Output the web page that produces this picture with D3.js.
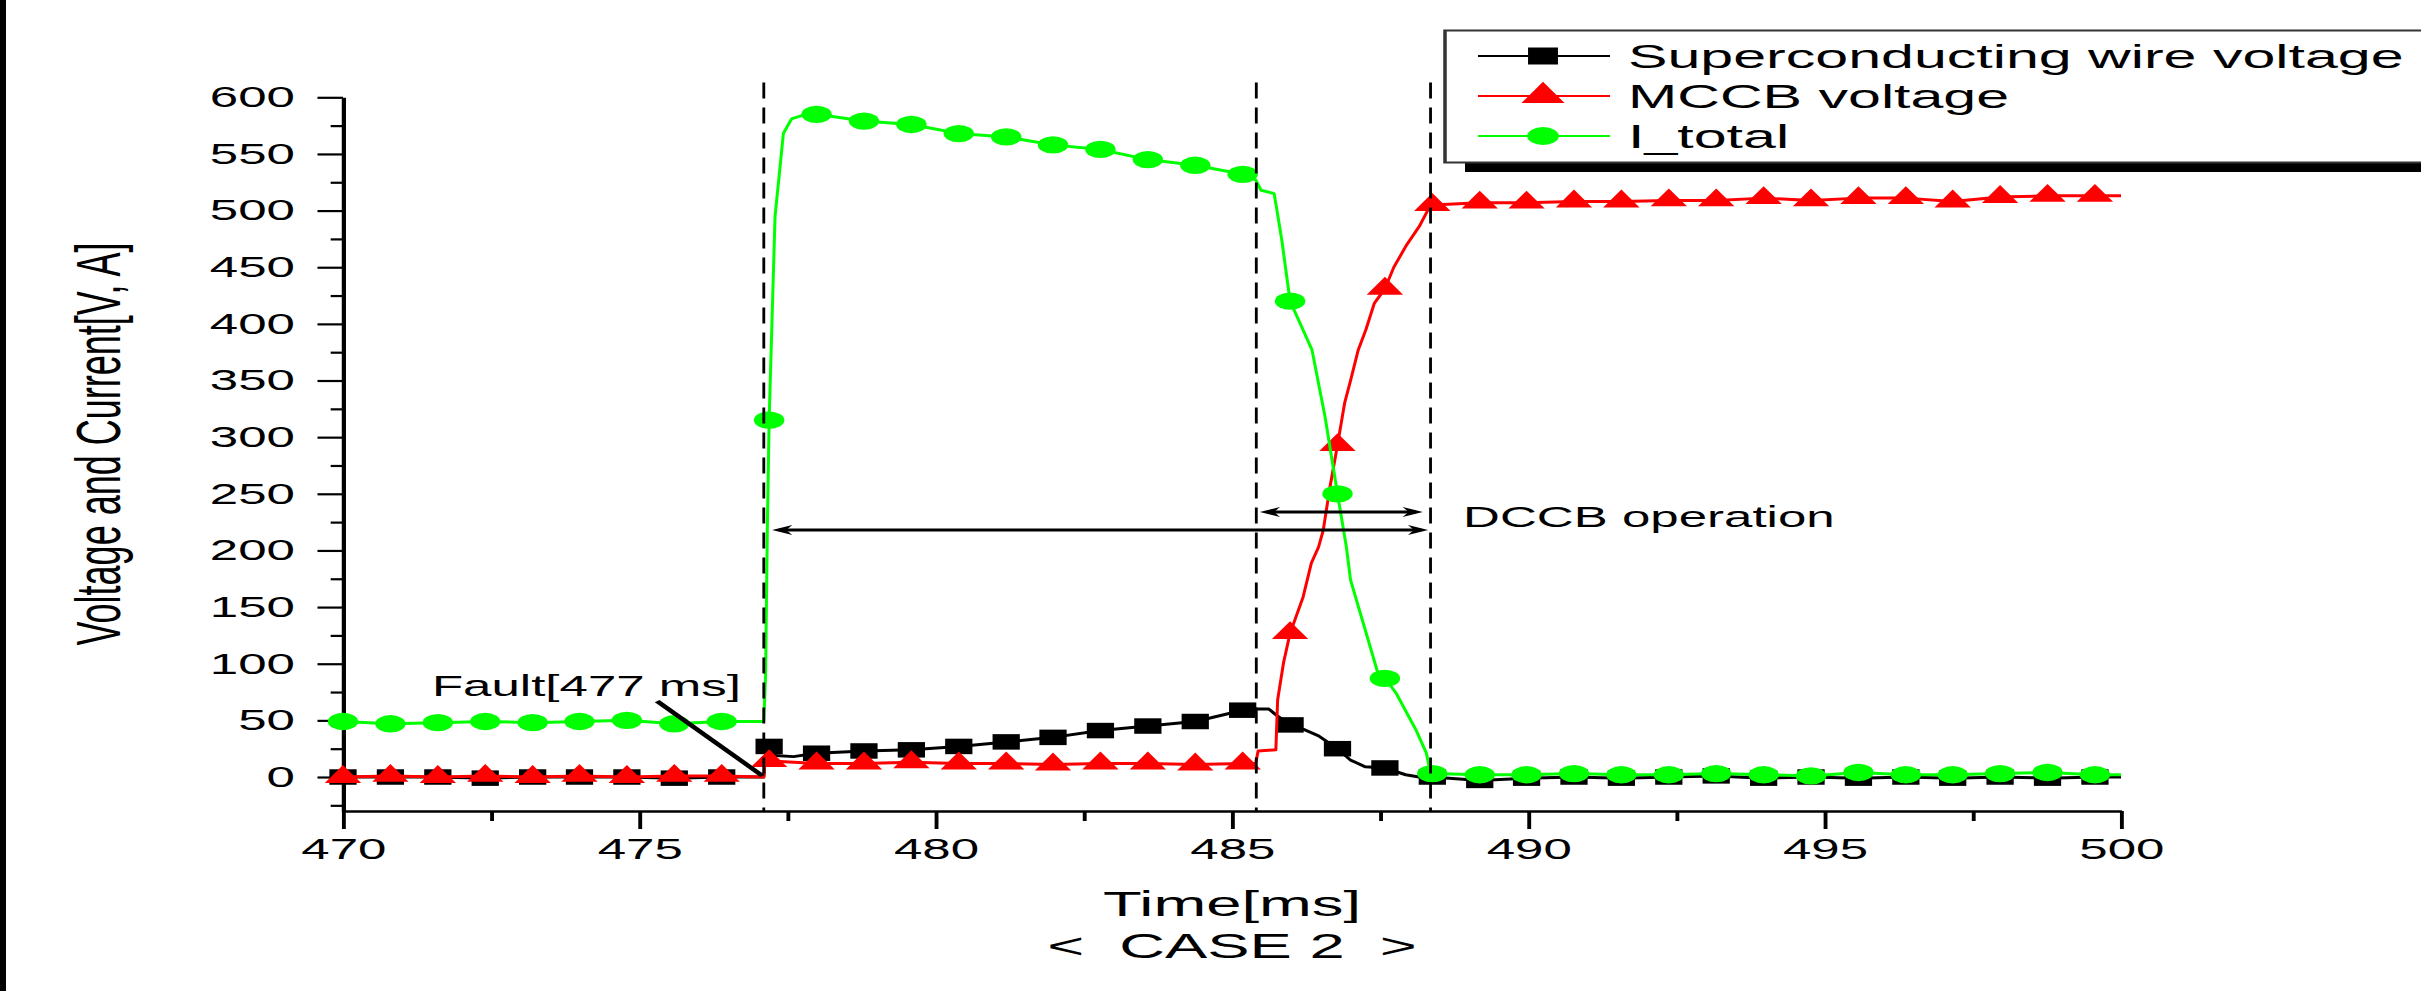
<!DOCTYPE html>
<html>
<head>
<meta charset="utf-8">
<script src="https://cdn.jsdelivr.net/npm/d3@7"></script>
<style>
body { margin: 0; background: #fff; }
svg { display: block; font-family: "Liberation Sans", Arial, sans-serif; }
</style>
</head>
<body>
<div id="chart-area"></div>
<script>
// times where the symbols sit (ms)
const markerTimes = [470.00, 470.80, 471.60, 472.40, 473.20, 473.99, 474.79, 475.59, 476.39, 477.19,
	477.99, 478.79, 479.59, 480.39, 481.19, 481.98, 482.78, 483.58, 484.38, 485.18,
	485.98, 486.78, 487.58, 488.38, 489.18, 489.97, 490.77, 491.57, 492.37, 493.17,
	493.97, 494.77, 495.57, 496.37, 497.16, 497.96, 498.76, 499.56]

// series values at the symbols
const wireMarks = [0, 0, 0, -1, 0, 0, 0, -1, 0, 27, 21, 23, 24, 27, 31, 35, 41, 45, 49, 59,
	46, 25, 8, 0, -3, -1, 0, -1, 0, 1, -1, 0, -1, 0, -1, 0, -1, 0]
const mccbMarks = [0, 1, 0, 1, 0, 1, 0, 1, 1, 14, 12, 12, 13, 12, 12, 11, 12, 12, 11, 12,
	127, 293, 431, 505, 507, 507, 508, 508, 509, 509, 511, 509, 511, 511, 508, 512, 513, 513]
const itotMarks = [49, 47, 48, 49, 48, 49, 50, 47, 49, 315, 585, 579, 576, 568, 565, 558, 554, 545, 540, 532,
	420, 250, 87, 3, 2, 2, 3, 2, 2, 3, 2, 1, 4, 2, 2, 3, 4, 2]

// extra trace points between symbols [t, value]
const wireTrace = [[477.10, 0], [477.14, 28], [477.30, 19], [477.60, 18], [485.41, 60], [485.62, 60],
	[485.74, 55], [486.21, 42], [486.47, 36], [487.00, 15], [487.25, 9], [487.93, 2], [488.28, -1], [500.0, 0]]
const mccbTrace = [[477.10, 0], [477.13, 19], [477.30, 14], [485.40, 12], [485.44, 23], [485.74, 24],
	[485.77, 68], [485.87, 101], [486.05, 137], [486.20, 159], [486.34, 189], [486.46, 203], [486.54, 218],
	[486.65, 255], [486.90, 330], [487.00, 350], [487.13, 377], [487.26, 395], [487.40, 418], [487.73, 450],
	[487.95, 470], [488.16, 486], [488.30, 500], [500.0, 513]]
const itotTrace = [[477.10, 49], [477.13, 90], [477.16, 220], [477.29, 495], [477.36, 531], [477.43, 568],
	[477.57, 581], [477.75, 584], [485.40, 527], [485.49, 518], [485.71, 515], [485.75, 503], [485.84, 474],
	[486.35, 377], [486.57, 318], [486.93, 203], [487.00, 174], [487.46, 92], [487.77, 74], [488.10, 42],
	[488.28, 21], [488.35, 3], [500.0, 2]]

const xTicks = [470, 475, 480, 485, 490, 495, 500]
const yTicks = [0, 50, 100, 150, 200, 250, 300, 350, 400, 450, 500, 550, 600]
const eventTimes = [477.10, 485.41, 488.35]
// [start, end, level]
const spans = [[477.24, 488.31, 218], [485.47, 488.22, 234]]
const seriesNames = ["Superconducting wire voltage", "MCCB voltage", "I_total"]
const seriesColors = ["#000000", "#ff0000", "#00ff00"]

const W = 2421, H = 991, SX = 1.76   // the original figure is stretched sideways
const VW = W / SX

const svg = d3.select("#chart-area").append("svg")
	.attr("width", W)
	.attr("height", H)
	.attr("viewBox", `0 0 ${VW} ${H}`)
	.attr("preserveAspectRatio", "none")

svg.append("rect").attr("width", VW).attr("height", H).attr("fill", "#fff")
svg.append("rect").attr("x", 0).attr("width", 6 / SX).attr("height", H).attr("fill", "#000")

const x = d3.scaleLinear().domain([470, 500]).range([343 / SX, 2121 / SX])
const y = d3.scaleLinear().domain([-30, 600]).range([811, 97.3])

// axes
const yAxis = svg.append("g")
	.attr("transform", `translate(${x(470)},0)`)
	.call(d3.axisLeft(y).tickValues(yTicks).tickSize(14.5).tickSizeOuter(0).tickPadding(12.8))
svg.append("g")
	.attr("transform", `translate(${x(470)},0)`)
	.call(d3.axisLeft(y).tickValues(d3.range(-25, 600, 50)).tickSize(7).tickSizeOuter(0).tickFormat(""))
	.select(".domain").remove()

const xAxis = svg.append("g")
	.attr("transform", `translate(0,${y(-30)})`)
	.call(d3.axisBottom(x).tickValues(xTicks).tickSize(18).tickSizeOuter(0).tickPadding(9))
svg.append("g")
	.attr("transform", `translate(0,${y(-30)})`)
	.call(d3.axisBottom(x).tickValues(d3.range(472.5, 500, 5)).tickSize(10).tickSizeOuter(0).tickFormat(""))
	.select(".domain").remove()

svg.selectAll(".domain").attr("stroke", "#000").attr("stroke-width", 2.4)
svg.selectAll(".tick line").attr("stroke", "#000").attr("stroke-width", 2.2)
svg.selectAll(".tick text").attr("fill", "#000")
yAxis.attr("font-size", 29).attr("font-family", null)
xAxis.attr("font-size", 29).attr("font-family", null)

// axis titles
svg.append("text")
	.attr("transform", `translate(${120 / SX},444) rotate(-90)`)
	.attr("text-anchor", "middle")
	.attr("font-size", 36)
	.text("Voltage and Current[V, A]")
svg.append("text")
	.attr("x", x(485)).attr("y", 916)
	.attr("text-anchor", "middle")
	.attr("font-size", 36)
	.text("Time[ms]")
svg.append("text")
	.attr("x", x(485)).attr("y", 958)
	.attr("text-anchor", "middle")
	.attr("font-size", 36)
	.style("white-space", "pre")
	.text("<  CASE 2  >")

// series
const merge = (marks, trace) => markerTimes.map((t, i) => [t, marks[i]])
	.concat(trace).sort((a, b) => a[0] - b[0])

const seriesData = [
	{ pts: merge(wireMarks, wireTrace), marks: wireMarks, sym: d3.symbolSquare, size: 240 },
	{ pts: merge(mccbMarks, mccbTrace), marks: mccbMarks, sym: d3.symbolTriangle, size: 185 },
	{ pts: merge(itotMarks, itotTrace), marks: itotMarks, sym: d3.symbolCircle, size: 235 }
]

const line = d3.line().x(d => x(d[0])).y(d => y(d[1]))

seriesData.forEach((s, i) => {
	svg.append("path")
		.datum(s.pts)
		.attr("d", line)
		.attr("fill", "none")
		.attr("stroke", seriesColors[i])
		.attr("stroke-width", 3)
		.attr("vector-effect", "non-scaling-stroke")
		.attr("stroke-linejoin", "round")

	svg.selectAll(null)
		.data(s.marks)
		.enter().append("path")
		.attr("transform", (d, k) => `translate(${x(markerTimes[k])},${y(d)})`)
		.attr("d", d3.symbol().type(s.sym).size(s.size))
		.attr("fill", seriesColors[i])
})

// dashed event lines
svg.selectAll(null)
	.data(eventTimes)
	.enter().append("line")
	.attr("x1", d => x(d)).attr("x2", d => x(d))
	.attr("y1", y(613)).attr("y2", y(-30))
	.attr("stroke", "#000")
	.attr("stroke-width", 1.6)
	.attr("stroke-dasharray", "16 9")

// double arrows
const head = (x0, y0, dir) => {
	const L = 11.5, h = 5
	return `M${x0},${y0}L${x0 + dir * L},${y0 - h}L${x0 + dir * L * 0.7},${y0}L${x0 + dir * L},${y0 + h}Z`
}
spans.forEach(s => {
	const x1 = x(s[0]), x2 = x(s[1]), yy = y(s[2])
	svg.append("line")
		.attr("x1", x1 + 4).attr("x2", x2 - 4)
		.attr("y1", yy).attr("y2", yy)
		.attr("stroke", "#000").attr("stroke-width", 3)
	svg.append("path").attr("d", head(x1, yy, 1)).attr("fill", "#000")
	svg.append("path").attr("d", head(x2, yy, -1)).attr("fill", "#000")
})

// annotations
svg.append("text")
	.attr("x", x(488.9)).attr("y", y(221))
	.attr("font-size", 29)
	.text("DCCB operation")
svg.append("text")
	.attr("x", x(471.5)).attr("y", y(71.9))
	.attr("font-size", 29)
	.text("Fault[477 ms]")
svg.append("line")
	.attr("x1", x(475.3)).attr("y1", y(67))
	.attr("x2", x(477.08)).attr("y2", y(1))
	.attr("stroke", "#000").attr("stroke-width", 3.4)

// legend
const lg = svg.append("g")
lg.append("rect")
	.attr("x", 1465 / SX).attr("y", 40)
	.attr("width", VW).attr("height", 132)
	.attr("fill", "#000")
lg.append("rect")
	.attr("x", 1445 / SX).attr("y", 30.5)
	.attr("width", VW).attr("height", 132)
	.attr("fill", "#fff")
	.attr("stroke", "#333")
	.attr("stroke-width", 2)

const rows = [56, 96, 136]
seriesNames.forEach((name, i) => {
	const r = lg.append("g").attr("transform", `translate(0,${rows[i]})`)
	r.append("line")
		.attr("x1", 1478 / SX).attr("x2", 1610 / SX)
		.attr("stroke", seriesColors[i]).attr("stroke-width", 2)
	r.append("path")
		.attr("transform", `translate(${1543 / SX},0)`)
		.attr("d", d3.symbol().type(seriesData[i].sym).size([289, 260, 255][i]))
		.attr("fill", seriesColors[i])
	r.append("text")
		.attr("x", 1628 / SX).attr("dy", "0.35em")
		.attr("font-size", 33.6)
		.text(name)
})
</script>
</body>
</html>
